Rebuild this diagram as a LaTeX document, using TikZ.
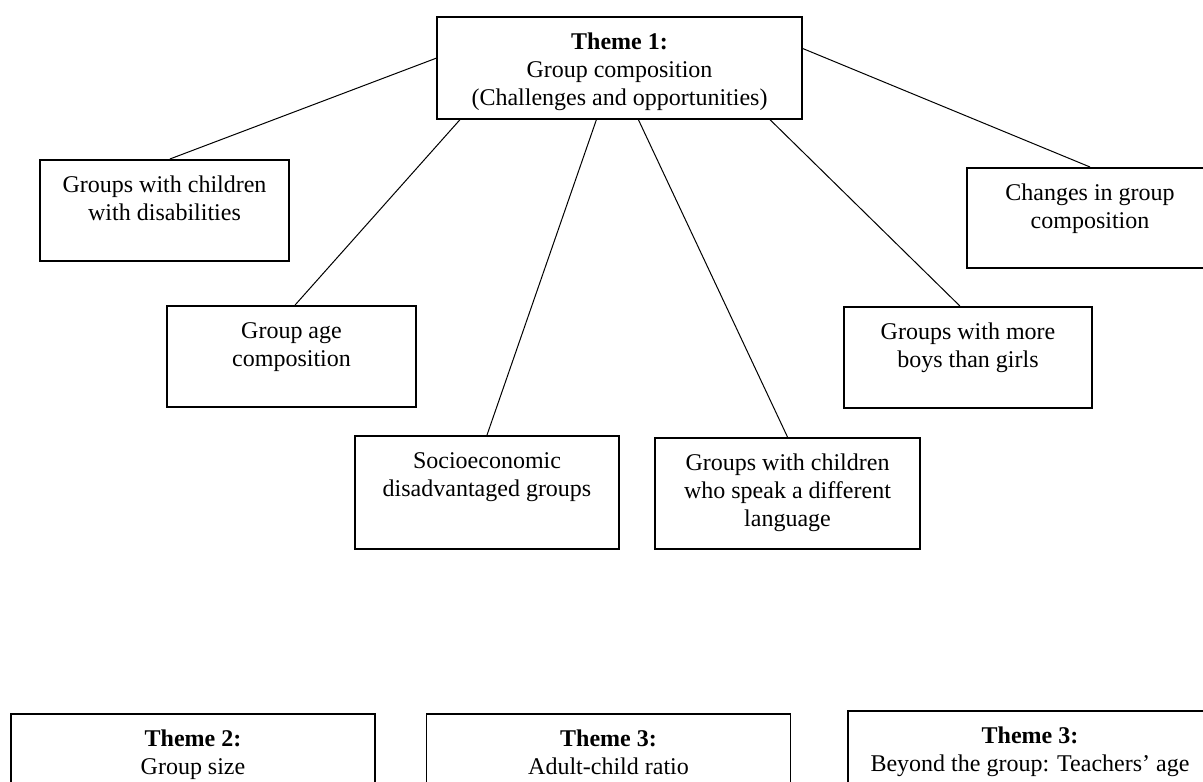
\documentclass[tikz,border=0pt]{standalone}
\usepackage{fontspec}
\setmainfont{Liberation Serif}

\begin{document}
\begin{tikzpicture}[
    x=0.5pt, y=-0.5pt,
    box/.style={draw, rectangle, line width=0.8pt, align=center, anchor=north, inner xsep=0pt, inner ysep=0pt, text height=30.5pt, text depth=20pt, font=\fontsize{12}{14}\selectfont},
    threelines/.style={text height=44.5pt},
    link/.style={line width=0.5pt}
]
    \useasboundingbox (0,0) rectangle (1203,781);

    % Theme 1: Group composition
    \node[box, threelines, minimum width=182.5pt, text depth=6.5pt] (theme1) at (619.5,16) {\textbf{Theme 1:}\\Group composition\\(Challenges and opportunities)};

    % Sub-themes of theme 1
    \node[box, minimum width=124.5pt] (disab) at (164.5,159) {Groups with children\\with disabilities};
    \node[box, minimum width=124.5pt] (agecomp) at (291.5,305) {Group age\\composition};
    \node[box, minimum width=132pt, text depth=26pt] (socio) at (487,435) {Socioeconomic\\disadvantaged groups};
    \node[box, threelines, minimum width=132.5pt, text depth=11pt] (language) at (787.5,437) {Groups with children\\who speak a different\\language};
    \node[box, minimum width=124pt] (boys) at (968,306) {Groups with more\\boys than girls};
    \node[box, minimum width=123pt, text depth=19.5pt] (changes) at (1090,167) {Changes in group\\composition};

    \draw[link] (theme1.177) -- (disab.84);
    \draw[link] (theme1.198) -- (agecomp.86);
    \draw[link] (theme1.246) -- (socio.north);
    \draw[link] (theme1.290) -- (language.north);
    \draw[link] (theme1.341) -- (boys.99);
    \draw[link] (theme1.6) -- (changes.north);

    % Themes 2 and 3
    \node[box, minimum width=182pt, text depth=26pt] (theme2) at (193,713) {\textbf{Theme 2:}\\Group size};
    \node[box, minimum width=182pt, text depth=26pt] (theme3) at (608.5,713) {\textbf{Theme 3:}\\Adult-child ratio};
    \node[box, minimum width=182pt, text depth=26pt] (theme3b) at (1030,710) {\textbf{Theme 3:}\\Beyond the group: Teachers’ age};
\end{tikzpicture}
\end{document}
